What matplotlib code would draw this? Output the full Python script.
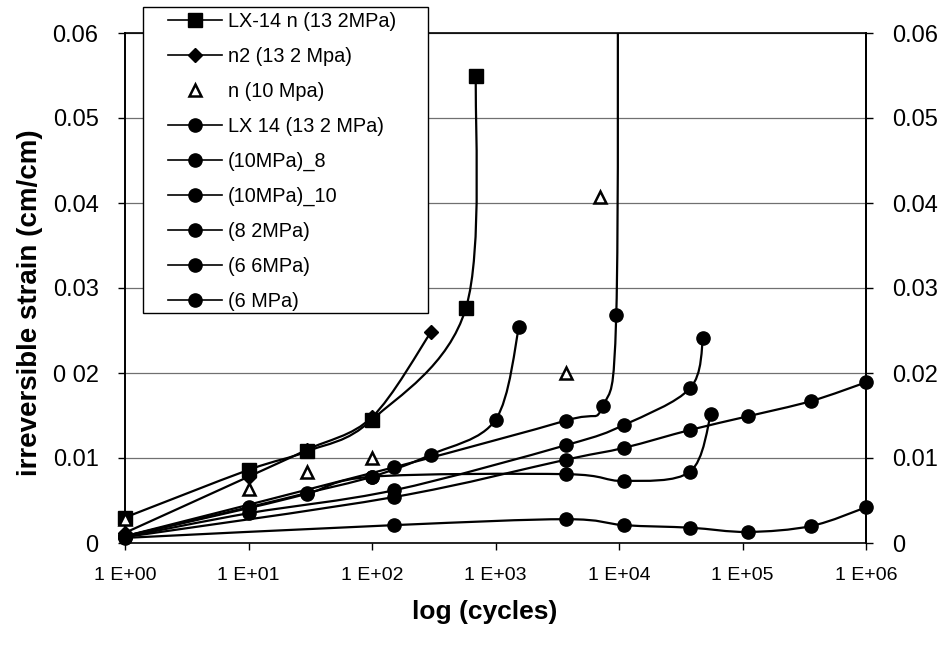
"""
Irreversible strain vs. log(cycles) for LX-14 creep/fatigue tests
"""

import numpy as np
import matplotlib.pyplot as plt
from matplotlib.path import Path
from matplotlib.patches import PathPatch, Rectangle
from matplotlib.lines import Line2D

plt.rcParams['font.family'] = ['Liberation Sans', 'DejaVu Sans']

# LX-14 n (13.2 MPa) - squares
lx14n_cycles = [1, 10, 30, 100, 575, 695]
lx14n_strain = [0.0030, 0.0086, 0.0108, 0.0145, 0.0276, 0.0550]

# n2 (13.2 MPa) - diamonds
n2_cycles = [1, 10, 30, 100, 300]
n2_strain = [0.0012, 0.0078, 0.0110, 0.0148, 0.0248]

# n (10 MPa) - open triangles, no line
n10_cycles = [1, 10, 30, 100, 3700, 7000]
n10_strain = [0.0028, 0.0064, 0.0084, 0.0100, 0.0200, 0.0407]

# LX 14 (13.2 MPa)
lx14_cycles = [1, 10, 30, 100, 300, 1000, 1550]
lx14_strain = [0.0008, 0.0042, 0.0059, 0.0078, 0.0104, 0.0145, 0.0254]

# (10MPa)_8 - last reading runs off the top of the chart
p10_8_cycles = [1, 150, 3700, 7400, 9500, 9800]
p10_8_strain = [0.0008, 0.0089, 0.0144, 0.0161, 0.0268, 0.0750]

# (10MPa)_10
p10_10_cycles = [1, 10, 150, 3700, 11000, 37600, 48000]
p10_10_strain = [0.0007, 0.0035, 0.0062, 0.0115, 0.0139, 0.0182, 0.0241]

# (8.2MPa)
p8_2_cycles = [1, 10, 30, 100, 3700, 11000, 37600, 55600]
p8_2_strain = [0.0008, 0.0041, 0.0058, 0.0078, 0.0081, 0.0073, 0.0084, 0.0152]

# (6.6MPa)
p6_6_cycles = [1, 150, 3700, 11000, 37600, 110000, 360000, 1000000]
p6_6_strain = [0.0007, 0.0054, 0.0098, 0.0112, 0.0133, 0.0149, 0.0167, 0.0189]

# (6 MPa)
p6_cycles = [1, 150, 3700, 11000, 37600, 110000, 360000, 1000000]
p6_strain = [0.0006, 0.0021, 0.0028, 0.0021, 0.0018, 0.0013, 0.0020, 0.0042]

labels = ['LX-14 n (13 2MPa)', 'n2 (13 2 Mpa)', 'n (10 Mpa)', 'LX 14 (13 2 MPa)',
          '(10MPa)_8', '(10MPa)_10', '(8 2MPa)', '(6 6MPa)', '(6 MPa)']
x_ticklabels = ['1 E+00', '1 E+01', '1 E+02', '1 E+03', '1 E+04', '1 E+05', '1 E+06']
y_left_labels = ['0', '0.01', '0 02', '0.03', '0.04', '0.05', '0.06']
y_right_labels = ['0', '0.01', '0.02', '0.03', '0.04', '0.05', '0.06']

Y_MAX = 0.06
X_SPAN, Y_SPAN = 741.0, 510.0   # plot area size in pixels


def smooth_path(cycles, strain):
    """Smoothed line (cubic Bezier through the points), built in log-x space."""
    u = np.log10(cycles) / 6 * X_SPAN
    v = np.asarray(strain) / Y_MAX * Y_SPAN
    pts = np.column_stack([u, v])
    n = len(pts)
    verts = [pts[0]]
    codes = [Path.MOVETO]
    for i in range(n - 1):
        p0 = pts[max(i - 1, 0)]
        p1 = pts[i]
        p2 = pts[i + 1]
        p3 = pts[min(i + 2, n - 1)]
        verts += [p1 + (p2 - p0) / 6, p2 - (p3 - p1) / 6, p2]
        codes += [Path.CURVE4] * 3
    verts = np.array(verts)
    verts[:, 0] = 10 ** (verts[:, 0] / X_SPAN * 6)
    verts[:, 1] = verts[:, 1] / Y_SPAN * Y_MAX
    return Path(verts, codes)


fig = plt.figure(figsize=(9.43, 6.57), dpi=100)
ax = fig.add_axes([125 / 943, 1 - 543 / 657, X_SPAN / 943, Y_SPAN / 657])

series = [
    (lx14n_cycles, lx14n_strain, 's', 10),
    (n2_cycles, n2_strain, 'D', 7.5),
    (n10_cycles, n10_strain, '^', 9),
    (lx14_cycles, lx14_strain, 'o', 9.5),
    (p10_8_cycles, p10_8_strain, 'o', 9.5),
    (p10_10_cycles, p10_10_strain, 'o', 9.5),
    (p8_2_cycles, p8_2_strain, 'o', 9.5),
    (p6_6_cycles, p6_6_strain, 'o', 9.5),
    (p6_cycles, p6_strain, 'o', 9.5),
]

handles = []
for (cyc, strain, mk, ms), lab in zip(series, labels):
    open_marker = mk == '^'
    if not open_marker:
        ax.add_patch(PathPatch(smooth_path(cyc, strain), fill=False,
                               edgecolor='black', lw=1.6, zorder=3))
    cyc = np.asarray(cyc)
    strain = np.asarray(strain)
    inside = strain <= Y_MAX
    ax.plot(cyc[inside], strain[inside], linestyle='none', marker=mk,
            markersize=ms, color='black',
            markerfacecolor='white' if open_marker else 'black',
            markeredgewidth=1.8 if open_marker else 1.0,
            clip_on=False, zorder=4)
    handles.append(Line2D([], [], color='black', lw=1.2,
                          linestyle='none' if open_marker else '-',
                          marker=mk, markersize=ms,
                          markerfacecolor='white' if open_marker else 'black',
                          markeredgewidth=1.8 if open_marker else 1.0))

ax.set_xscale('log')
ax.set_xlim(1, 1e6)
ax.set_ylim(0, Y_MAX)
ax.set_xticks([10 ** k for k in range(7)])
ax.set_xticklabels(x_ticklabels)
ax.xaxis.set_minor_locator(plt.NullLocator())
ax.set_yticks(np.arange(0, 0.061, 0.01))
ax.set_yticklabels(y_left_labels)
ax.tick_params(axis='y', direction='out', length=5, width=1, labelsize=17, pad=14)
ax.tick_params(axis='x', direction='out', length=5, width=1, labelsize=14, pad=12)
ax.yaxis.grid(True, color='#707070', lw=0.9)
ax.set_axisbelow(True)

for side in ['top', 'bottom']:
    ax.spines[side].set_linestyle((0, (1.5, 1)))
    ax.spines[side].set_linewidth(1.2)
ax.spines['left'].set_linewidth(1.4)
ax.spines['right'].set_linewidth(1.4)

# secondary axis on the right carries the same strain scale
ax2 = ax.twinx()
ax2.set_ylim(0, Y_MAX)
ax2.set_yticks(np.arange(0, 0.061, 0.01))
ax2.set_yticklabels(y_right_labels)
ax2.tick_params(axis='y', direction='out', length=5, width=1, labelsize=17, pad=14)
for side in ['top', 'bottom', 'left']:
    ax2.spines[side].set_visible(False)
ax2.spines['right'].set_linewidth(1.4)

fig.text(30 / 943, 1 - 303 / 657, 'irreversible strain (cm/cm)', rotation=90,
         ha='center', va='center', fontsize=20, fontweight='bold')
fig.text(485 / 943, 1 - 612 / 657, 'log (cycles)', ha='center', va='center',
         fontsize=19, fontweight='bold')

# legend box sticks out above the plot area, so draw its frame on the figure
fig.add_artist(Rectangle((143 / 943, 1 - 313 / 657), 285 / 943, 306 / 657,
                         transform=fig.transFigure, facecolor='white',
                         edgecolor='black', lw=1.0, zorder=5))
leg = fig.legend(handles, labels, loc='upper left',
                 bbox_to_anchor=(168 / 943, 1 - 12 / 657), borderaxespad=0,
                 fontsize=14.3, handlelength=2.7, handletextpad=0.3,
                 labelspacing=0.8, borderpad=0, frameon=False)
leg.set_zorder(10)

fig.savefig('out.png', dpi=100)
